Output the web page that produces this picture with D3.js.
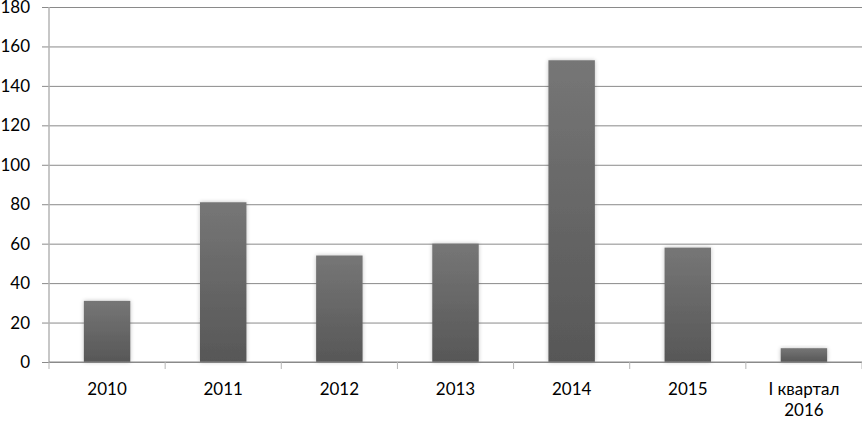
<!DOCTYPE html>
<html>
<head>
<meta charset="utf-8">
<script src="https://cdn.jsdelivr.net/npm/d3@7"></script>
<style>
  body { margin: 0; background: #fff; }
  svg text { font-family: Lato, "Open Sans", sans-serif; font-size: 17px; fill: #000; }
</style>
</head>
<body>
<div id="chart"></div>
<script>
const categories = ["2010", "2011", "2012", "2013", "2014", "2015", "I квартал\n2016"];
const values = [31, 81, 54, 60, 153, 58, 7];
const yTicks = [0, 20, 40, 60, 80, 100, 120, 140, 160, 180];

let width = 862;
let height = 422;
let margin = { top: 7, right: 0, bottom: 60, left: 49 };

const svg = d3
  .select("#chart")
  .append("svg")
  .attr("width", width)
  .attr("height", height);

const defs = svg.append("defs");
const grad = defs
  .append("linearGradient")
  .attr("id", "barGrad")
  .attr("x1", 0).attr("y1", 0).attr("x2", 0).attr("y2", 1);
grad.append("stop").attr("offset", "0%").attr("stop-color", "#767676");
grad.append("stop").attr("offset", "100%").attr("stop-color", "#575757");

const shadow = defs.append("filter").attr("id", "shadow")
  .attr("x", "-20%").attr("y", "-20%").attr("width", "140%").attr("height", "140%");
shadow.append("feGaussianBlur").attr("in", "SourceAlpha").attr("stdDeviation", 2);
shadow.append("feComponentTransfer").append("feFuncA").attr("type", "linear").attr("slope", 0.25);
const merge = shadow.append("feMerge");
merge.append("feMergeNode");
merge.append("feMergeNode").attr("in", "SourceGraphic");

const xScale = d3
  .scaleBand()
  .domain(categories)
  .range([margin.left, width - margin.right])
  .paddingInner(0.6)
  .paddingOuter(0.3);

const yScale = d3
  .scaleLinear()
  .domain([0, 180])
  .range([height - margin.bottom, margin.top]);

// gridlines
const yAxis = d3
  .axisLeft(yScale)
  .tickValues(yTicks)
  .tickSize(-(width - margin.left - margin.right))
  .tickPadding(19);

const gy = svg
  .append("g")
  .attr("transform", `translate(${margin.left},0)`)
  .call(yAxis);
gy.select(".domain").remove();
gy.selectAll(".tick line").attr("stroke", "#8a8a8a").attr("x1", -7);

// y axis line
svg
  .append("line")
  .attr("x1", margin.left).attr("x2", margin.left)
  .attr("y1", margin.top).attr("y2", height - margin.bottom)
  .attr("stroke", "#b5b5b5")
  .attr("stroke-width", 1.5);

// bars
svg
  .selectAll(".bar")
  .data(values)
  .enter()
  .append("rect")
  .attr("class", "bar")
  .attr("x", (d, i) => xScale(categories[i]))
  .attr("y", (d) => yScale(d))
  .attr("width", xScale.bandwidth())
  .attr("height", (d) => yScale(0) - yScale(d))
  .attr("fill", "url(#barGrad)")
  .attr("filter", "url(#shadow)");

// x axis with category ticks
const step = xScale.step();
const boundaries = d3.range(categories.length + 1).map((i) => margin.left + i * ((width - margin.left - margin.right) / categories.length));
svg
  .append("line")
  .attr("x1", margin.left).attr("x2", width)
  .attr("y1", yScale(0)).attr("y2", yScale(0))
  .attr("stroke", "#8a8a8a");
svg
  .selectAll(".xtick")
  .data(boundaries)
  .enter()
  .append("line")
  .attr("x1", (d) => d).attr("x2", (d) => d)
  .attr("y1", yScale(0)).attr("y2", yScale(0) + 7)
  .attr("stroke", "#b5b5b5");

const labels = svg
  .selectAll(".xlabel")
  .data(categories)
  .enter()
  .append("text")
  .attr("text-anchor", "middle")
  .attr("x", (d) => xScale(d) + xScale.bandwidth() / 2)
  .attr("y", yScale(0) + 33);

labels.each(function (d) {
  const parts = d.split("\n");
  const t = d3.select(this);
  parts.forEach((p, j) => {
    t.append("tspan")
      .attr("x", t.attr("x"))
      .attr("dy", j === 0 ? 0 : 21)
      .text(p);
  });
});
</script>
</body>
</html>
